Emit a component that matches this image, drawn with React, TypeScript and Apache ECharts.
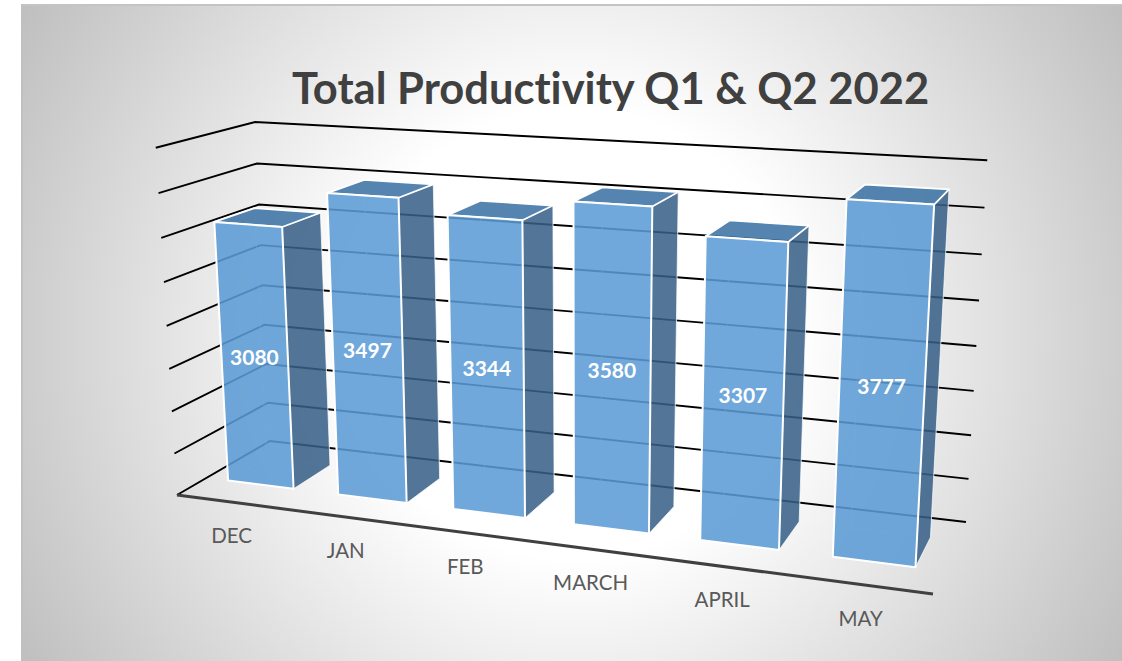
import React, { useEffect, useRef } from "react";
import * as echarts from "echarts";

const categories = ["DEC", "JAN", "FEB", "MARCH", "APRIL", "MAY"];
const values = [3080, 3497, 3344, 3580, 3307, 3777];
const yTicks = [0, 500, 1000, 1500, 2000, 2500, 3000, 3500, 4000];
const chartTitle = "Total Productivity Q1 & Q2 2022";

// Perspective set-up: floor corners and wall tops on the page
const FL = [177, 495], FR = [933, 594], BR = [966, 522], BL = [270, 441];
const TOP_FL = [155.5, 147.5], TOP_BL = [256, 121.5], TOP_BR = [987, 160];
const BAR_FRACTION = 0.6, DEPTH_FRONT = 0.3, DEPTH_BACK = 0.72, U_BOW = 0.012, WALL_TILT = 4;

function makeProjection() {
  const dx1 = FR[0] - BR[0], dx2 = BL[0] - BR[0], sx = FL[0] - FR[0] + BR[0] - BL[0];
  const dy1 = FR[1] - BR[1], dy2 = BL[1] - BR[1], sy = FL[1] - FR[1] + BR[1] - BL[1];
  const den = dx1 * dy2 - dx2 * dy1;
  const g = (sx * dy2 - dx2 * sy) / den;
  const e = (dx1 * sy - sx * dy1) / den;
  const a = FR[0] - FL[0] + g * FR[0], b = BL[0] - FL[0] + e * BL[0], c = FL[0];
  const d = FR[1] - FL[1] + g * FR[1], f = BL[1] - FL[1] + e * BL[1], o = FL[1];
  const floor = (u: number, v: number) => [a * u + b * v + c, d * u + f * v + o, g * u + e * v + 1];
  const A = floor(0, 0), B = floor(0, 1), C = floor(1, 1);
  const k = (TOP_BR[0] * C[2] - C[0] - TOP_FL[0] * A[2] + A[0]) / (TOP_FL[0] - TOP_BR[0]);
  const pts: [number[], number[], number][] = [[A, TOP_FL, 0.2], [B, TOP_BL, 0.2], [C, TOP_BR, 0.6]];
  let i = 0, j = 0;
  pts.forEach(([F, T, wt]) => {
    i += (T[0] * (F[2] + k) - F[0]) * wt;
    j += (T[1] * (F[2] + k) - F[1]) * wt;
  });
  return (u0: number, v: number, h: number) => {
    const u = u0 + U_BOW * u0 * (1 - u0);
    const F = floor(u, v);
    const w = F[2] + k * h;
    return [(F[0] + i * h) / w, (F[1] + j * h) / w + WALL_TILT * h * (u - 0.5)];
  };
}
const project = makeProjection();

const cs = (params: any) => params.coordSys;
const toU = (params: any, px: number) => (px - cs(params).x) / cs(params).width;
const toH = (params: any, py: number) => (cs(params).y + cs(params).height - py) / cs(params).height;

export default function App() {
  const ref = useRef<HTMLDivElement>(null);
  useEffect(() => {
    document.body.style.margin = "0";
    document.body.style.background = "#fff";
    const chart = echarts.init(ref.current!, null, { renderer: "svg" });
    chart.setOption({
      animation: false,
      title: {
        text: chartTitle,
        left: 292,
        top: 65,
        padding: 0,
        textStyle: { fontFamily: "Lato", fontWeight: "bold", fontSize: 43.5, color: "#404040" },
      },
      grid: { left: 100, top: 100, width: 600, height: 400, show: false },
      xAxis: { type: "category", data: categories, show: false },
      yAxis: { type: "value", min: 0, max: 4000, interval: 500, show: false },
      series: [
        {
          type: "custom",
          coordinateSystem: "cartesian2d",
          silent: true,
          clip: false,
          data: yTicks.map((t) => [0, t]),
          renderItem: (params: any, api: any) => {
            const h = toH(params, api.coord([0, api.value(1)])[1]);
            const children: any[] = [
              {
                type: "polyline",
                shape: { points: [project(0, 0, h), project(0, 1, h), project(1, 1, h)] },
                style: { stroke: "#000", lineWidth: 1.9, fill: "none" },
              },
            ];
            if (h === 0) {
              children.push({
                type: "polyline",
                shape: { points: [project(0, 0, 0), project(1, 0, 0)] },
                style: { stroke: "#404040", lineWidth: 3, fill: "none" },
              });
            }
            return { type: "group", children };
          },
        },
        {
          type: "custom",
          coordinateSystem: "cartesian2d",
          silent: true,
          clip: false,
          encode: { x: 0, y: 1 },
          data: values.map((v, idx) => [idx, v, categories[idx]]),
          renderItem: (params: any, api: any) => {
            const idx = api.value(0);
            const val = api.value(1);
            const [px, py] = api.coord([idx, val]);
            const band = api.size([1, 0])[0];
            const uc = toU(params, px);
            const hw = (toU(params, px + band / 2) - uc) * BAR_FRACTION;
            const uL = uc - hw, uR = uc + hw;
            const h = toH(params, py);
            const v1 = DEPTH_FRONT, v2 = DEPTH_BACK;
            const poly = (points: number[][], fill: string, stroke: string, lineWidth: number) => ({
              type: "polygon",
              shape: { points },
              style: { fill, stroke, lineWidth, lineJoin: "round" },
            });
            const inner = "rgba(91,155,213,0.10)";
            const innerLine = "rgba(255,255,255,0.28)";
            const white = "#ffffff";
            const labelPt = project(uc, v1, h / 2);
            const tickPt = project(uc, 0, 0);
            return {
              type: "group",
              children: [
                poly([project(uL, v1, 0), project(uR, v1, 0), project(uR, v2, 0), project(uL, v2, 0)], inner, innerLine, 1),
                poly([project(uL, v2, 0), project(uR, v2, 0), project(uR, v2, h), project(uL, v2, h)], inner, innerLine, 1),
                poly([project(uL, v1, 0), project(uL, v2, 0), project(uL, v2, h), project(uL, v1, h)], inner, innerLine, 1),
                poly([project(uR, v1, 0), project(uR, v2, 0), project(uR, v2, h), project(uR, v1, h)], "rgba(54,94,134,0.85)", "rgba(255,255,255,0.7)", 1),
                poly([project(uL, v1, h), project(uR, v1, h), project(uR, v2, h), project(uL, v2, h)], "rgba(64,116,165,0.88)", white, 1.8),
                poly([project(uL, v1, 0), project(uR, v1, 0), project(uR, v1, h), project(uL, v1, h)], "rgba(91,155,213,0.86)", white, 2),
                {
                  type: "text",
                  style: {
                    text: String(val),
                    x: labelPt[0],
                    y: labelPt[1] - 1,
                    fill: "#ffffff",
                    font: "bold 21px Lato",
                    align: "center",
                    verticalAlign: "middle",
                  },
                },
                {
                  type: "text",
                  style: {
                    text: categories[idx],
                    x: tickPt[0] - 0.5,
                    y: tickPt[1] + 33,
                    fill: "#595959",
                    font: "20.5px Lato",
                    align: "center",
                    verticalAlign: "middle",
                  },
                },
              ],
            };
          },
        },
      ],
    });
    return () => chart.dispose();
  }, []);
  return (
    <div style={{ position: "fixed", left: 0, top: 0, width: 1122, height: 661, background: "#fff", overflow: "hidden" }}>
      <style>{"svg text { font-variant-ligatures: none; }"}</style>
      <div
        style={{
          position: "absolute",
          left: 21,
          top: 4,
          width: 1101,
          height: 657,
          boxSizing: "border-box",
          borderLeft: "2px solid #c0c0c0",
          borderTop: "2px solid #c4c4c4",
          background: "radial-gradient(circle 641px at 550px 328px, #ffffff 35%, #bfbfbf 100%)",
        }}
      />
      <div ref={ref} style={{ position: "absolute", left: 0, top: 0, width: 1122, height: 661 }} />
    </div>
  );
}
